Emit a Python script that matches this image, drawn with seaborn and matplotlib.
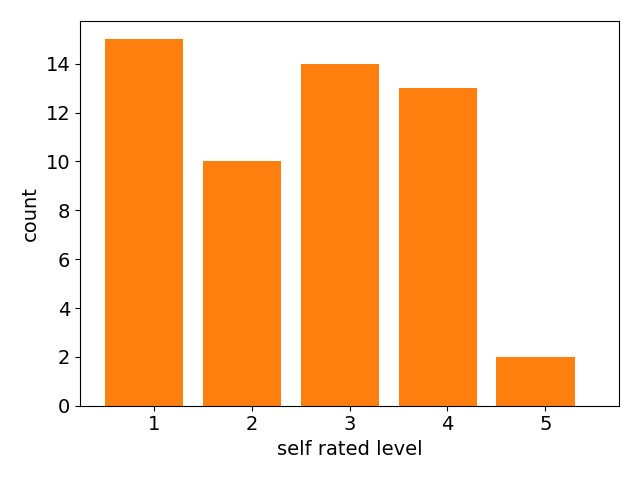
import pandas as pd
import matplotlib
matplotlib.use("Agg")
import matplotlib.pyplot as plt
import seaborn as sns

# self rated level counts
levels = ["1", "2", "3", "4", "5"]
counts = [15, 10, 14, 13, 2]

df = pd.DataFrame({"level": levels, "count": counts})

plt.rcParams["font.size"] = 14
fig, ax = plt.subplots(figsize=(6.4, 4.8), dpi=100)
sns.barplot(data=df, x="level", y="count", color="#ff7f0e", saturation=1,
            width=0.8, ax=ax)
# in the original the ticks sit a bit right of the bar centres
ax.set_xticks([i + 0.1 for i in range(len(levels))], levels)
ax.set_xlim(-0.655, 4.853)
ax.set_ylim(0, 15.75)
ax.set_xlabel("self rated level")
ax.set_ylabel("count")
plt.tight_layout()
plt.savefig("out.png")
